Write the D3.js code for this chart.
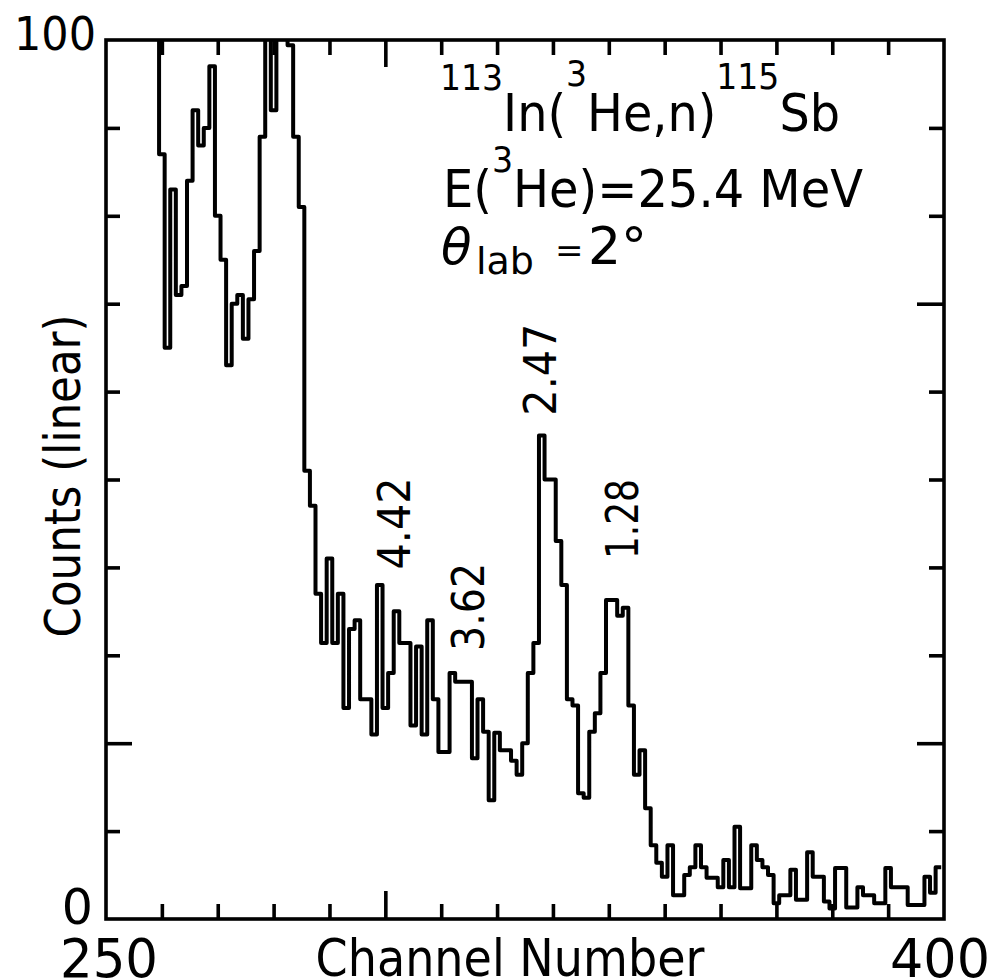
<!DOCTYPE html>
<html>
<head>
<meta charset="utf-8">
<script src="https://cdn.jsdelivr.net/npm/d3@7"></script>
<style>
  body { margin: 0; background: #fff; }
  svg { display: block; font-family: 'DejaVu Sans', sans-serif; }
  .frame { fill: none; stroke: #000; stroke-width: 3.6; }
  .tick line { stroke: #000; stroke-width: 3.6; }
  .spectrum { fill: none; stroke: #000; stroke-width: 4; stroke-linejoin: round; }
  text { fill: #000; }
</style>
</head>
<body>
<svg width="999" height="980"></svg>
<script>
// one count per channel, starting at firstChannel; 110 = runs off the top
const firstChannel = 260;
const counts = [
  87, 65, 83, 71, 72, 84, 92, 88, 90, 97,
  80, 75, 63, 70, 71, 66, 70.5, 76, 89, 110,
  92, 110, 110, 99.4, 89, 81, 51, 47, 37, 31.4,
  41, 31.4, 37, 24, 33, 34, 25, 25, 21, 38,
  24, 28, 35, 31.4, 31.4, 22, 31, 21, 34, 25,
  19, 19, 28, 27, 27, 27, 18.3, 25, 21.3, 13.5,
  21.2, 19.2, 19.2, 18, 16.4, 20, 28, 31.4, 55, 50,
  50, 43, 38, 25, 24.3, 14.3, 13.8, 21.3, 23.4, 28,
  36.3, 36.3, 34.5, 35.4, 24.3, 16.4, 19.2, 12.6, 8.4, 6.4,
  4.8, 8.4, 2.7, 2.7, 5.0, 5.9, 8.4, 5.9, 4.7, 4.7,
  3.6, 6.7, 3.6, 10.5, 3.5, 3.5, 8.4, 6.7, 5.9, 5.0,
  1.8, 2.7, 2.7, 5.6, 2.2, 2.2, 7.6, 4.8, 4.8, 2.0,
  1.2, 5.8, 5.8, 1.3, 1.3, 3.6, 2.7, 2.7, 1.8, 1.8,
  5.8, 3.6, 3.6, 3.6, 1.6, 1.6, 1.6, 4.8, 3.0, 5.9
];

const xTicks = [260, 270, 280, 290, 300, 310, 320, 330, 340, 350, 360, 370, 380, 390];
const xLongTicks = [300];
const yTicks = [10, 20, 30, 40, 50, 60, 70, 80, 90];
const yLongLeft = [20];
const yLongRight = [20, 70];

// state energies (MeV) written along the peaks
const peakLabels = ['4.42', '3.62', '2.47', '1.28'];
const peakChannels = [304.4, 317.7, 330.6, 345.2];
const peakLevels = [45, 35.5, 62.5, 45.5];
const peakLengths = [92, 88, 92, 80];

const margin = { left: 106, right: 55, top: 40, bottom: 61 };

const svg = d3.select('svg');
const width = +svg.attr('width');
const height = +svg.attr('height');
const innerWidth = width - margin.left - margin.right;
const innerHeight = height - margin.top - margin.bottom;

const x = d3.scaleLinear().domain([250, 400]).range([0, innerWidth]);
const y = d3.scaleLinear().domain([0, 100]).range([innerHeight, 0]);

const g = svg.append('g')
    .attr('transform', `translate(${margin.left},${margin.top})`);

g.append('clipPath').attr('id', 'plot-clip')
  .append('rect')
    .attr('width', innerWidth)
    .attr('height', innerHeight);

// histogram: bins centred on integer channels
const bins = counts.map((c, i) => ({ channel: firstChannel + i, count: c }));
const last = bins[bins.length - 1];
const pts = [[firstChannel - 0.5, 110]]
  .concat(bins.map(d => [d.channel - 0.5, d.count]))
  .concat([[last.channel + 0.5, last.count]]);

const line = d3.line()
    .x(d => x(d[0]))
    .y(d => y(d[1]))
    .curve(d3.curveStepAfter);

g.append('path')
    .attr('class', 'spectrum')
    .attr('clip-path', 'url(#plot-clip)')
    .attr('d', line(pts));

// axes: inward ticks on all four sides
const lengthen = (sel, long, attr, val) =>
  sel.selectAll('.tick line').filter(d => long.includes(d)).attr(attr, val);

g.append('g')
    .attr('transform', `translate(0,${innerHeight})`)
    .call(d3.axisBottom(x).tickValues(xTicks).tickSize(-15).tickSizeOuter(0).tickFormat(''))
    .call(a => a.select('.domain').remove())
    .call(a => lengthen(a, xLongTicks, 'y2', -28));

g.append('g')
    .call(d3.axisTop(x).tickValues(xTicks).tickSize(-15).tickSizeOuter(0).tickFormat(''))
    .call(a => a.select('.domain').remove())
    .call(a => lengthen(a, xLongTicks, 'y2', 27));

g.append('g')
    .call(d3.axisLeft(y).tickValues(yTicks).tickSize(-14).tickSizeOuter(0).tickFormat(''))
    .call(a => a.select('.domain').remove())
    .call(a => lengthen(a, yLongLeft, 'x2', 26));

g.append('g')
    .attr('transform', `translate(${innerWidth},0)`)
    .call(d3.axisRight(y).tickValues(yTicks).tickSize(-15).tickSizeOuter(0).tickFormat(''))
    .call(a => a.select('.domain').remove())
    .call(a => lengthen(a, yLongRight, 'x2', -27));

g.append('rect')
    .attr('class', 'frame')
    .attr('width', innerWidth)
    .attr('height', innerHeight);

// axis numbers and titles
g.append('text')
    .attr('x', -10).attr('y', y(100) + 10)
    .attr('text-anchor', 'end')
    .attr('font-size', 46)
    .attr('textLength', 82).attr('lengthAdjust', 'spacingAndGlyphs')
    .text('100');

g.append('text')
    .attr('x', -13).attr('y', y(0) + 5)
    .attr('text-anchor', 'end')
    .attr('font-size', 49)
    .text('0');

g.append('text')
    .attr('x', x(250) + 3).attr('y', innerHeight + 58)
    .attr('text-anchor', 'middle')
    .attr('font-size', 53)
    .attr('textLength', 98).attr('lengthAdjust', 'spacingAndGlyphs')
    .text('250');

g.append('text')
    .attr('x', x(400) - 4).attr('y', innerHeight + 58)
    .attr('text-anchor', 'middle')
    .attr('font-size', 53)
    .attr('textLength', 100).attr('lengthAdjust', 'spacingAndGlyphs')
    .text('400');

g.append('text')
    .attr('x', 404).attr('y', innerHeight + 57)
    .attr('text-anchor', 'middle')
    .attr('font-size', 51)
    .attr('textLength', 389).attr('lengthAdjust', 'spacingAndGlyphs')
    .text('Channel Number');

g.append('text')
    .attr('transform', `translate(${80 - margin.left},${476 - margin.top}) rotate(-90)`)
    .attr('text-anchor', 'middle')
    .attr('font-size', 49)
    .attr('textLength', 323).attr('lengthAdjust', 'spacingAndGlyphs')
    .text('Counts (linear)');

// peak labels, written upward
peakLabels.forEach((lab, i) => {
  g.append('text')
      .attr('transform', `translate(${x(peakChannels[i])},${y(peakLevels[i])}) rotate(-90)`)
      .attr('text-anchor', 'middle')
      .attr('font-size', 45)
      .attr('textLength', peakLengths[i]).attr('lengthAdjust', 'spacingAndGlyphs')
      .text(lab);
});

// reaction annotation
const ann = g.append('g').attr('transform', `translate(${-margin.left},${-margin.top})`);

const l1 = ann.append('text')
    .attr('x', 440).attr('y', 131)
    .attr('textLength', 400).attr('lengthAdjust', 'spacingAndGlyphs');
l1.append('tspan').attr('font-size', 36).attr('dy', -41).text('113');
l1.append('tspan').attr('font-size', 52).attr('dy', 41).text('In(');
l1.append('tspan').attr('font-size', 36).attr('dy', -45).text('3');
l1.append('tspan').attr('font-size', 52).attr('dy', 45).text('He,n)');
l1.append('tspan').attr('font-size', 36).attr('dy', -42).text('115');
l1.append('tspan').attr('font-size', 52).attr('dy', 42).text('Sb');

const l2 = ann.append('text')
    .attr('x', 443).attr('y', 207)
    .attr('textLength', 420).attr('lengthAdjust', 'spacingAndGlyphs');
l2.append('tspan').attr('font-size', 52).text('E(');
l2.append('tspan').attr('font-size', 36).attr('dy', -35).text('3');
l2.append('tspan').attr('font-size', 52).attr('dy', 35).text('He)=25.4 MeV');

const l3 = ann.append('text').attr('y', 264);
l3.append('tspan').attr('x', 441).attr('font-size', 50).attr('font-style', 'italic').text('θ');
l3.append('tspan').attr('x', 476).attr('font-size', 38).attr('dy', 10).text('lab');
l3.append('tspan').attr('x', 555).attr('font-size', 34).attr('dy', -12).text('=');
l3.append('tspan').attr('x', 588).attr('font-size', 52).attr('dy', 2).text('2°');
</script>
</body>
</html>
